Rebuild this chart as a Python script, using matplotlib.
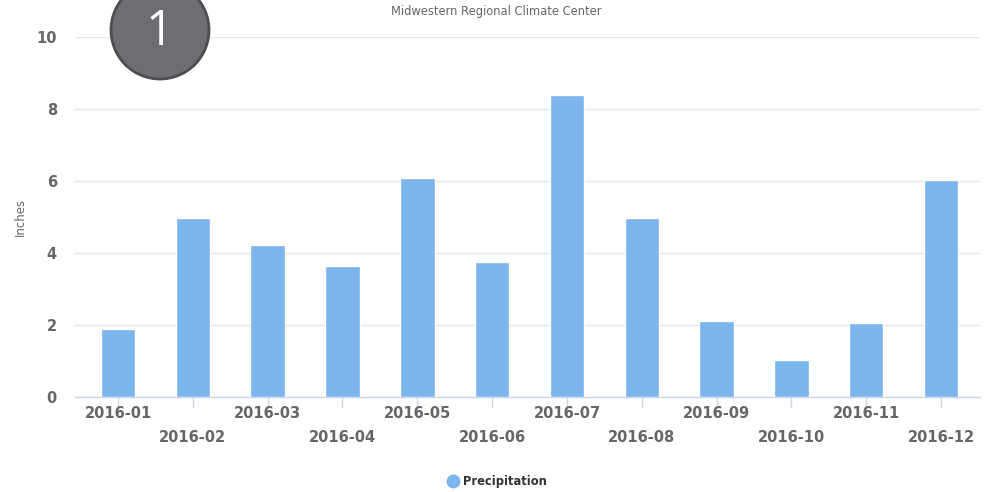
import matplotlib
matplotlib.use("Agg")
import matplotlib.pyplot as plt
from matplotlib.patches import Ellipse
from matplotlib.lines import Line2D

months = ["2016-01", "2016-02", "2016-03", "2016-04", "2016-05", "2016-06",
          "2016-07", "2016-08", "2016-09", "2016-10", "2016-11", "2016-12"]
precip = [1.88, 4.97, 4.21, 3.64, 6.07, 3.74, 8.40, 4.97, 2.12, 1.03, 2.06, 6.03]
yticks = [0, 2, 4, 6, 8, 10]
title = "Midwestern Regional Climate Center"
ylabel = "Inches"
series_name = "Precipitation"

W, H = 985, 492
fig = plt.figure(figsize=(W / 100, H / 100), dpi=100)
left, right, bottom, top = 75, 980, 397, 37
ax = fig.add_axes([left / W, 1 - bottom / H, (right - left) / W, (bottom - top) / H])

x = list(range(len(months)))
ax.bar(x, precip, width=0.46, color="#7cb5ec", edgecolor="#ffffff", linewidth=1, zorder=3)

ax.set_xlim(-0.575, 11.52)
ax.set_ylim(0, 10)
ax.set_yticks(yticks)
ax.set_yticklabels([str(v) for v in yticks])
ax.grid(axis="y", color="#e6e6e6", linewidth=1, zorder=0)
ax.set_axisbelow(True)

for s in ["top", "right", "left"]:
    ax.spines[s].set_visible(False)
ax.spines["bottom"].set_color("#ccd6eb")
ax.spines["bottom"].set_linewidth(1)

ax.set_xticks(x)
ax.set_xticklabels(months)
ax.tick_params(axis="x", length=7, width=1, color="#ccd6eb", labelsize=10.5,
               labelcolor="#666666")
ax.tick_params(axis="y", length=0, pad=13, labelsize=10.5, labelcolor="#666666")
for lbl in ax.get_xticklabels() + ax.get_yticklabels():
    lbl.set_fontweight("bold")
for i, t in enumerate(ax.xaxis.get_major_ticks()):
    t.set_pad(-0.5 if i % 2 == 0 else 16.5)

ax.set_ylabel(ylabel, fontsize=8.5, color="#666666", labelpad=0)
ax.yaxis.set_label_coords(-(left - 27) / (right - left), 0.5)

fig.text(496 / W, 1 - 12 / H, title, ha="center", va="center", fontsize=8.3, color="#666666")

handle = Line2D([], [], marker="o", linestyle="", color="#7cb5ec", markersize=9)
leg = fig.legend([handle], [series_name], loc="center", bbox_to_anchor=(497 / W, 1 - 481.5 / H),
                 frameon=False, handletextpad=0.4, prop={"size": 8.3, "weight": "bold"},
                 handlelength=1.0)
for t in leg.get_texts():
    t.set_color("#333333")

badge = Ellipse((160 / W, 1 - 30 / H), 98 / W, 98 / H, transform=fig.transFigure,
                facecolor="#6e6d71", edgecolor="#4d4d4f", linewidth=2, zorder=5)
fig.add_artist(badge)
fig.text(160 / W, 1 - 32 / H, "1", ha="center", va="center", fontsize=35, color="white",
         family=["Open Sans", "DejaVu Sans"], fontweight="normal", zorder=6)

fig.savefig("out.png", dpi=100)
